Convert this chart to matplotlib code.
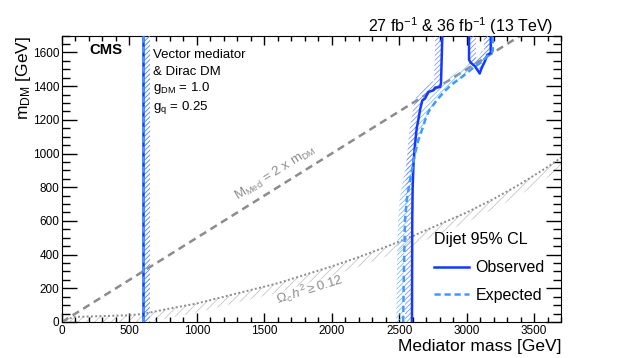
import matplotlib
matplotlib.use("Agg")
import matplotlib.pyplot as plt
import numpy as np
from matplotlib.patches import Polygon
from matplotlib.lines import Line2D

plt.rcParams['font.family'] = ['Liberation Sans', 'DejaVu Sans']
plt.rcParams['mathtext.fontset'] = 'custom'
plt.rcParams['mathtext.rm'] = 'Liberation Sans'
plt.rcParams['mathtext.it'] = 'Liberation Sans:italic'
plt.rcParams['mathtext.bf'] = 'Liberation Sans:bold'
plt.rcParams['hatch.linewidth'] = 0.5

# === Data (GeV) ===
# observed exclusion, low-mass edge
obs_low_x = [600, 600]
obs_low_y = [1700, 0]
# observed exclusion, high-mass edge
obs_x = [2595, 2596, 2597, 2600, 2607, 2617, 2630, 2642, 2655, 2672, 2692,
         2716, 2753, 2766, 2803, 2810, 2820]
obs_y = [0, 300, 600, 800, 950, 1050, 1150, 1200, 1260, 1316, 1326,
         1365, 1375, 1391, 1395, 1414, 1700]
# observed island near the top
isl_x = [3018, 3018, 3030, 3062, 3097, 3112, 3137, 3154, 3179, 3179]
isl_y = [1700, 1557, 1540, 1518, 1475, 1508, 1550, 1586, 1597, 1700]
# expected exclusion
exp_low_x = [600, 600]
exp_low_y = [1700, 0]
exp_x = [2530, 2535, 2543, 2556, 2580, 2618, 2642, 2668, 2692, 2716, 2745,
         2780, 2840, 2890, 2950, 2995, 3050, 3112, 3150, 3186, 3194, 3194]
exp_y = [0, 300, 600, 723, 841, 1000, 1079, 1138, 1197, 1246, 1280,
         1318, 1372, 1410, 1445, 1473, 1510, 1543, 1575, 1598, 1610, 1700]
# M_med = 2 m_DM
diag_x = [0, 3400]
diag_y = [0, 1700]
# relic density curve
relic_x = [0, 50, 100, 300, 500, 600, 800, 1000, 1200, 1400, 1600, 1800,
           2000, 2200, 2400, 2600, 2800, 3000, 3200, 3400, 3600, 3700]
relic_y = [0, 20, 30, 35, 40, 48, 80, 110, 150, 190, 230, 280,
           330, 385, 445, 510, 580, 650, 730, 820, 920, 975]

OBS_COL = '#1438ff'
EXP_COL = '#3d9bff'
GRAY = '#8c8c8c'


def hatch_band(ax, x, y, width_px, color, side=1, hatch='////', z=2):
    """Hatched strip of fixed pixel width on one side of a polyline."""
    pts = ax.transData.transform(np.column_stack([x, y]))
    d = np.gradient(pts, axis=0)
    n = np.column_stack([-d[:, 1], d[:, 0]])
    n /= np.hypot(n[:, 0], n[:, 1])[:, None]
    off = ax.transData.inverted().transform(pts + side * width_px * n)
    poly = np.vstack([np.column_stack([x, y]), off[::-1]])
    ax.add_patch(Polygon(poly, closed=True, fill=False, hatch=hatch,
                         edgecolor=color, lw=0, zorder=z))


fig = plt.figure(figsize=(6.23, 3.58), dpi=100)
ax = fig.add_axes([0.0995, 0.1006, 0.801, 0.8])
ax.set_xlim(0, 3700)
ax.set_ylim(0, 1700)

# === Relic density ===
hatch_band(ax, relic_x, relic_y, 9, '#bdbdbd', side=-1, hatch='////', z=1)
ax.plot(relic_x, relic_y, color=GRAY, lw=1.4, ls=(0, (1, 1.2)), zorder=2)

# === Mmed = 2 mDM ===
ax.plot(diag_x, diag_y, color=GRAY, lw=1.8, ls=(0, (3, 2)), zorder=2)

# === Expected ===
for xs, ys in [(exp_low_x, exp_low_y), (exp_x, exp_y)]:
    hatch_band(ax, xs, ys, 7, '#6cb4ff', side=1, hatch='///////', z=3)
# === Observed ===
for xs, ys in [(obs_low_x, obs_low_y), (obs_x, obs_y), (isl_x, isl_y)]:
    hatch_band(ax, xs, ys, 7, '#6a86ff', side=1, hatch='///////', z=3)
    ax.plot(xs, ys, color=OBS_COL, lw=1.8, zorder=4)
for xs, ys in [(exp_low_x, exp_low_y), (exp_x, exp_y)]:
    ax.plot(xs, ys, color=EXP_COL, lw=1.8, ls=(0, (2.5, 1.5)), zorder=5)

# === Labels on lines ===
def disp_angle(x0, y0, x1, y1):
    p = ax.transData.transform([[x0, y0], [x1, y1]])
    return np.degrees(np.arctan2(p[1, 1] - p[0, 1], p[1, 0] - p[0, 0]))

ang = disp_angle(diag_x[0], diag_y[0], diag_x[1], diag_y[1])
ax.text(1610, 845, r"M$_{\mathrm{Med}}$ = 2 x m$_{\mathrm{DM}}$", color=GRAY,
        fontsize=9.5, rotation=ang, rotation_mode='anchor',
        ha='center', va='bottom', zorder=6)

ang2 = disp_angle(1600, 230, 2100, 355)
ax.text(1600, 105, r"$\Omega_{\mathrm{c}}\,h^{2} \geq 0.12$", color=GRAY,
        fontsize=9.5, rotation=ang2, rotation_mode='anchor',
        ha='left', va='baseline', zorder=6)

# === Text ===
ax.text(0.054, 0.934, "CMS", transform=ax.transAxes, fontsize=10.7,
        fontweight='bold', va='baseline')
info = ["Vector mediator", "& Dirac DM", r"g$_{\mathrm{DM}}$ = 1.0",
        r"g$_{\mathrm{q}}$ = 0.25"]
for t, yy in zip(info, [0.92, 0.861, 0.806, 0.742]):
    ax.text(0.182, yy, t, transform=ax.transAxes, fontsize=9.5, va='baseline')
ax.text(0.984, 1.012, r"27 fb$^{-1}$ & 36 fb$^{-1}$ (13 TeV)",
        transform=ax.transAxes, fontsize=11.5, ha='right', va='baseline')

ax.set_xlabel("Mediator mass [GeV]", fontsize=12.5, loc='right')
ax.set_ylabel(r"m$_{\mathrm{DM}}$ [GeV]", fontsize=12.5, loc='top')
ax.xaxis.set_label_coords(1.0, -0.058)
ax.yaxis.set_label_coords(-0.058, 1.0)

# === Legend ===
handles = [Line2D([], [], color=OBS_COL, lw=1.8),
           Line2D([], [], color=EXP_COL, lw=1.8, ls=(0, (2.5, 1.5)))]
leg = ax.legend(handles, ["Observed", "Expected"], title="Dijet 95% CL",
                loc='upper left', bbox_to_anchor=(0.733, 0.335), frameon=False,
                fontsize=11.5, title_fontsize=11.5, handlelength=2.2,
                labelspacing=0.8, handletextpad=0.4, borderaxespad=0)
leg._legend_box.align = 'left'

# === Ticks ===
ax.set_xticks(np.arange(0, 3701, 500))
ax.set_xticks(np.arange(0, 3701, 100), minor=True)
ax.set_yticks(np.arange(0, 1601, 200))
ax.set_yticks(np.arange(0, 1701, 50), minor=True)
ax.tick_params(which='both', direction='in', top=True, right=True,
               labelsize=8.5, width=1)
ax.tick_params(axis='x', which='major', length=6.5, pad=2)
ax.tick_params(axis='x', which='minor', length=3.6)
ax.tick_params(axis='y', which='major', length=11, pad=2)
ax.tick_params(axis='y', which='minor', length=5.8)

fig.savefig("out.png", dpi=100)
